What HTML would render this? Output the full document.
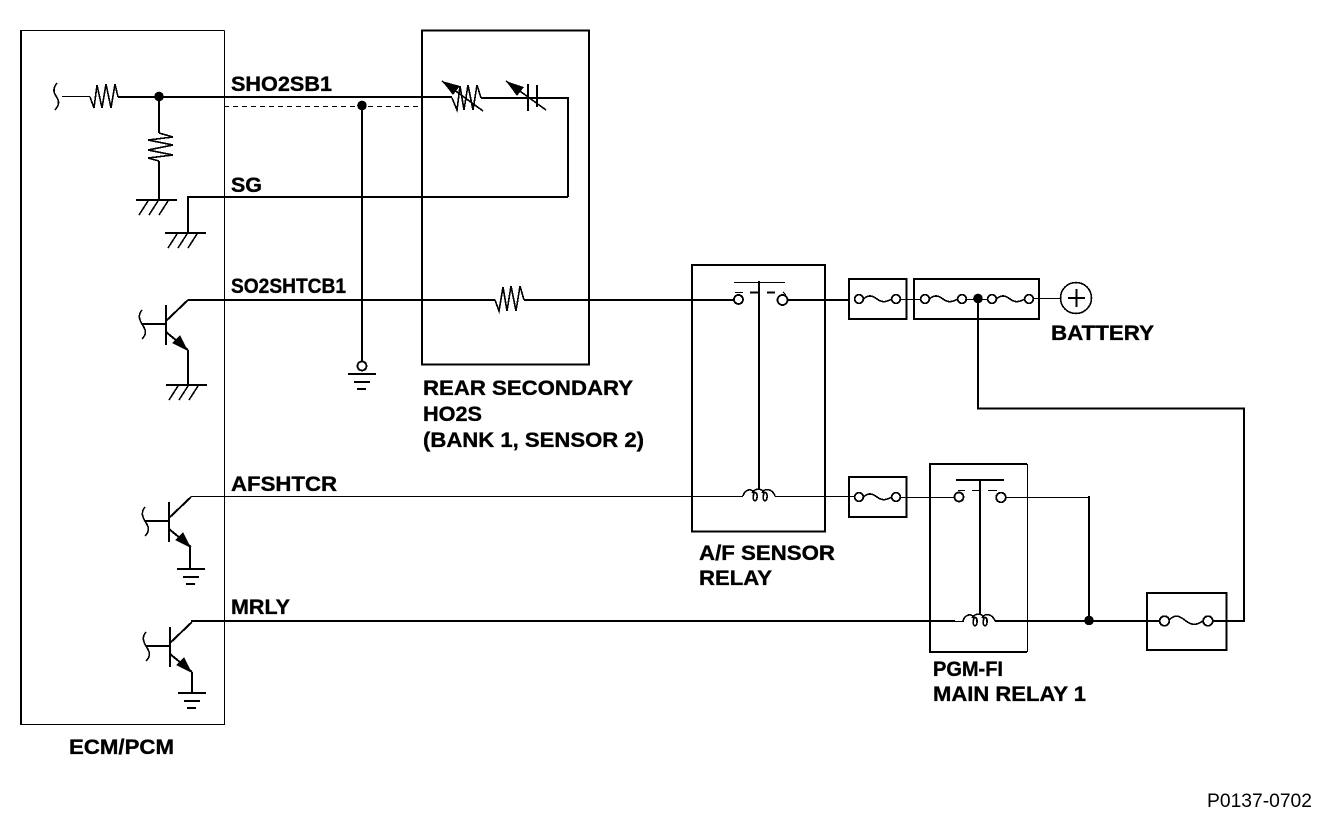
<!DOCTYPE html>
<html><head><meta charset="utf-8"><style>
html,body{margin:0;padding:0;background:#fff}
svg{display:block;shape-rendering:crispEdges}
text{font-family:"Liberation Sans",sans-serif;font-weight:bold;font-size:21px;fill:#000;stroke:#000;stroke-width:.35}
.w{fill:none;stroke:#000;stroke-width:2}
.t{fill:none;stroke:#000;stroke-width:1}
.m{fill:none;stroke:#000;stroke-width:1.6}
.c{fill:#fff;stroke:#000;stroke-width:1.8}
</style></head><body>
<svg width="1328" height="822" viewBox="0 0 1328 822" xmlns="http://www.w3.org/2000/svg">
<defs>
<g id="fuse"><path class="m" d="M4.500 0C10 -5 14 -3 18 0S26 4 32.500 0"/><circle class="c" cx="0" cy="0" r="4.300"/><circle class="c" cx="37" cy="0" r="4.300"/></g>
<g id="coil"><path class="m" d="M0 0C2 -7 9 -8 11 -3M9 -3C11 -8 20 -8 21 -3M19 -3C21 -8 29 -8 32 0M11 -3C8 7 15 7 14 -1C14 -4 10 -4 11 -3M21 -3C18 7 25 7 24 -1C24 -4 20 -4 21 -3"/></g>
<g id="tr">
<path class="w" d="M0 -20V20" stroke-width="2"/>
<path class="w" d="M-24 -1H0"/>
<path class="m" d="M-24 -1C-27 -6 -28 -10 -24 -15M-24 -1C-20 5 -19 9 -24 14"/>
<path class="w" d="M0 -4L22 -25"/>
<path class="w" d="M0 7L22 25"/>
<polygon points="22,26 6,18 14,10" fill="#000"/>
</g>
<g id="hatch"><path class="w" d="M0 0H41"/><path class="m" d="M12 1L3 15M22 1L13 15M32 1L23 15"/></g>
<g id="gnd"><path class="w" d="M0 0H28"/><path class="w" d="M6 8H22"/><path class="w" d="M9 15H18"/></g>
</defs>

<!-- boxes -->
<path class="t" d="M224.500 30.500H21.500V724.500H224.500V30.500"/><path class="w" d="M21 30V725"/>
<rect class="w" x="422" y="30.500" width="167" height="334"/>
<rect class="w" x="692" y="265" width="133" height="266.500"/>
<rect class="w" x="849" y="279" width="57.500" height="40"/>
<rect class="w" x="914" y="279" width="125" height="40"/>
<rect class="w" x="849" y="477" width="57.500" height="40"/>
<path class="w" d="M1027 464H930V652H1027"/><path class="t" d="M1027.500 464V652"/>
<rect class="w" x="1147" y="593" width="79.500" height="57"/>

<!-- SHO2SB1 -->
<path class="t" d="M62 96.500H90"/>
<path class="m" d="M57 83C53 88 53 92 56 96C60 102 59 105 55 110"/>
<path class="m" d="M90 97L94 108L97 85L102 108L106 84L111 108L115 84L118 97"/>
<path class="w" d="M118 97H452"/>
<path class="t" d="M224 106.500H420" stroke-dasharray="5 4"/>
<circle cx="159" cy="96.500" r="4.800" fill="#000"/>
<path class="w" d="M159 97V133"/>
<path class="m" d="M159 133L173 137L148 140L173 145L148 150L173 155L148 158L159 161"/>
<path class="w" d="M159 161V200"/>
<use href="#hatch" x="136" y="200"/>
<path class="m" d="M452 98L457 110L460 86L464 110L468 85L473 110L477 85L481 98"/>
<path class="m" d="M442 81L483 111"/><polygon points="442,81 460,86 453,95" fill="#000"/>
<path class="w" d="M481 98H568V197"/>
<path class="m" d="M506 81L546 110"/><polygon points="506,81 524,87 517,96" fill="#000"/>
<path class="w" d="M528 84V111M537 85V107"/>
<!-- SG -->
<path class="w" d="M568 197H188V233"/>
<use href="#hatch" x="165" y="233"/>
<!-- vertical drain -->
<circle cx="362" cy="105.500" r="4.800" fill="#000"/>
<path class="w" d="M362 106V362"/>
<circle class="c" cx="362" cy="366" r="4.500"/>
<use href="#gnd" x="348" y="374"/>

<!-- SO2SHTCB1 -->
<use href="#tr" x="166" y="325"/>
<path class="w" d="M188 300H495"/>
<path class="m" d="M495 300L499 311L503 287L507 311L511 286L516 311L520 286L524 300"/>
<path class="w" d="M524 300H733"/>
<path class="m" d="M188 350V385"/>
<use href="#hatch" x="166" y="385"/>

<!-- relay 1 -->
<circle class="c" cx="738.500" cy="299.500" r="4.500"/><circle class="c" cx="782.500" cy="300" r="5"/>
<path class="t" d="M734 282.500H785"/>
<path class="w" d="M759 281V490"/>
<path class="w" d="M750 292.500H758M767 292.500H775"/><path class="t" d="M735 292.500H743M783 292L786 295"/>
<path class="w" d="M788 300H849"/>
<use href="#fuse" x="859" y="299"/>
<path class="t" d="M900 299.500H921"/>
<use href="#fuse" x="925" y="299"/>
<use href="#fuse" x="992" y="299"/>
<path class="t" d="M965 299.500H988M1033 298.500H1060"/>
<circle cx="978" cy="298.500" r="4.800" fill="#000"/>
<path class="w" d="M978 299V408.500H1244V621H1212"/>
<circle class="m" cx="1076" cy="298" r="15.500"/>
<path class="w" d="M1068 298H1085M1076.500 289V307"/>

<!-- AFSHTCR -->
<use href="#tr" x="169" y="522"/>
<path class="t" d="M191 496.500H743"/>
<use href="#coil" x="743" y="496"/>
<path class="t" d="M775 496.500H859"/>
<use href="#fuse" x="859" y="497"/>
<path class="t" d="M900 497.500H955"/>
<circle class="c" cx="959" cy="497" r="4.500"/><circle class="c" cx="1001" cy="497.500" r="4.800"/>
<path class="w" d="M956 480H1004"/>
<path class="w" d="M980 480V615"/>
<path class="t" d="M958 490.500H965M972 490.500H979M988 490.500H997"/>
<path class="t" d="M1006 497.500H1088"/>
<path class="w" d="M1089 496V621"/>
<path class="m" d="M190 546V569"/>
<use href="#gnd" x="177" y="569"/>

<!-- MRLY -->
<use href="#tr" x="170" y="647"/>
<path class="w" d="M191 621H955"/><path class="t" d="M955 621.500H964"/>
<use href="#coil" x="963" y="621"/>
<path class="w" d="M995 621H1160"/>
<circle cx="1089" cy="620.500" r="4.800" fill="#000"/>
<path class="w" d="M192 672V693"/>
<use href="#gnd" x="178" y="693"/>
<path class="m" d="M1169 620C1176 613 1181 617 1186 621S1197 626 1204 620"/>
<circle class="c" cx="1164.500" cy="621" r="4.800"/><circle class="c" cx="1208" cy="621" r="4.800"/>

<!-- labels -->
<text x="231" y="91" textLength="101" lengthAdjust="spacingAndGlyphs">SHO2SB1</text>
<text x="231" y="192" textLength="31" lengthAdjust="spacingAndGlyphs">SG</text>
<text x="231" y="293" textLength="115" lengthAdjust="spacingAndGlyphs">SO2SHTCB1</text>
<text x="231" y="491" textLength="106" lengthAdjust="spacingAndGlyphs">AFSHTCR</text>
<text x="231" y="614" textLength="59" lengthAdjust="spacingAndGlyphs">MRLY</text>
<text x="423" y="395" textLength="210" lengthAdjust="spacingAndGlyphs">REAR SECONDARY</text>
<text x="423" y="421" textLength="59" lengthAdjust="spacingAndGlyphs">HO2S</text>
<text x="423" y="447" textLength="221" lengthAdjust="spacingAndGlyphs">(BANK 1, SENSOR 2)</text>
<text x="699" y="560" textLength="136" lengthAdjust="spacingAndGlyphs">A/F SENSOR</text>
<text x="699" y="585" textLength="73" lengthAdjust="spacingAndGlyphs">RELAY</text>
<text x="933" y="676" textLength="70" lengthAdjust="spacingAndGlyphs">PGM-FI</text>
<text x="933" y="701" textLength="153" lengthAdjust="spacingAndGlyphs">MAIN RELAY 1</text>
<text x="1051" y="340" textLength="103" lengthAdjust="spacingAndGlyphs">BATTERY</text>
<text x="69" y="754" textLength="105" lengthAdjust="spacingAndGlyphs">ECM/PCM</text>
<text x="1207" y="807" textLength="105" lengthAdjust="spacingAndGlyphs" style="font-weight:normal;font-size:19px;stroke:none">P0137-0702</text>
</svg>
</body></html>
